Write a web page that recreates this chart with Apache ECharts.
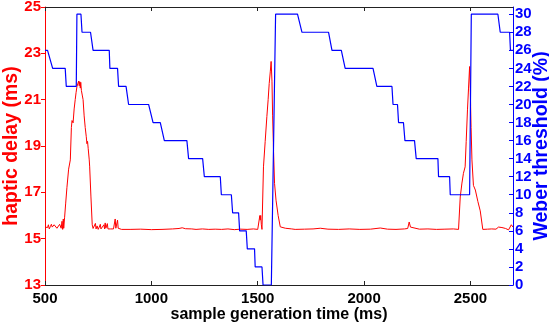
<!DOCTYPE html>
<html>
<head>
<meta charset="utf-8">
<script src="https://cdn.jsdelivr.net/npm/echarts@6/dist/echarts.min.js"></script>
<style>
html,body{margin:0;padding:0;background:#fff;}
#chart{width:549px;height:329px;}
</style>
</head>
<body>
<div id="chart"></div>
<script>
// ---- data ----
const xTicks = [500, 1000, 1500, 2000, 2500];
const delayTicks = [13, 15, 17, 19, 21, 23, 25];
const weberTicks = [0, 2, 4, 6, 8, 10, 12, 14, 16, 18, 20, 22, 24, 26, 28, 30];

const hapticDelay = [
  [500,15.5],[504,15.45],[508,15.55],[512,15.48],[516,15.6],[520,15.42],[525,15.52],[530,15.62],[534,15.5],[538,15.45],
  [543,15.6],[548,15.68],[552,15.55],[556,15.45],[560,15.42],[565,15.5],[569,15.62],[573,15.7],[576,15.45],[580,15.75],
  [583,15.4],[586,15.85],[588,15.45],
  [592,15.9],[597,16.5],[603,17.2],[611,18.0],[619,18.4],[624,19.8],[627,20.1],[632,20.0],[637,20.6],[642,21.0],
  [646,21.3],[650,21.56],[654,21.5],[658,21.8],[661,21.6],[663,21.78],[666,21.5],[668,21.75],[671,21.4],[675,21.2],
  [679,21.0],[684,20.3],[689,19.8],[694,19.4],[697,19.1],[700,19.2],[703,18.9],[705,18.9],[708,18.4],[710,18.1],
  [716,16.8],[722,15.6],[726,15.44],
  [730,15.5],[734,15.4],[737,15.66],[740,15.42],[745,15.55],[750,15.4],[755,15.5],[760,15.62],[763,15.42],[767,15.5],
  [772,15.45],[777,15.6],[780,15.42],[783,15.68],[786,15.45],[790,15.5],[793,15.65],[796,15.42],[800,15.45],[808,15.42],
  [815,15.45],[822,15.42],[828,15.45],[830,15.85],[833,15.45],[838,15.42],[841,15.8],[844,15.45],[850,15.42],[860,15.4],
  [900,15.4],[950,15.41],[1000,15.39],[1050,15.4],[1100,15.42],[1130,15.44],[1145,15.47],[1160,15.43],[1190,15.42],
  [1210,15.4],[1240,15.42],[1270,15.4],[1300,15.41],[1330,15.4],[1360,15.42],[1390,15.39],[1420,15.41],[1450,15.4],
  [1480,15.42],[1500,15.4],[1507,15.42],
  [1510,16.0],[1512,15.8],[1514,16.0],[1517,15.6],[1520,15.4],[1527,18.1],[1535,19.2],[1543,20.27],[1549,21.0],
  [1554,21.7],[1559,22.2],[1563,22.65],[1567,21.8],[1570,20.3],[1574,18.9],[1579,17.39],[1586,16.66],[1596,16.0],
  [1606,15.51],[1630,15.45],[1660,15.42],[1676,15.4],
  [1720,15.41],[1760,15.42],[1794,15.45],[1830,15.41],[1880,15.4],[1930,15.42],[1980,15.4],[2030,15.41],[2076,15.46],
  [2110,15.41],[2150,15.4],[2190,15.42],[2205,15.44],[2212,15.72],[2218,15.5],[2225,15.42],[2260,15.41],[2300,15.42],
  [2340,15.4],[2380,15.41],[2420,15.42],[2444,15.4],
  [2452,16.8],[2460,17.4],[2467,17.82],[2475,18.1],[2480,19.2],[2486,20.56],[2491,21.5],[2496,22.43],[2499,21.5],
  [2503,19.8],[2507,18.4],[2514,17.3],[2523,17.1],[2535,16.6],[2546,16.2],[2558,15.4],[2580,15.41],[2600,15.42],
  [2620,15.41],[2632,15.5],[2638,15.44],[2648,15.48],[2655,15.42],[2665,15.44],[2679,15.38],[2688,15.42],[2692,15.6],
  [2695,15.66],[2700,15.5]
];

const weberThreshold = [
  [500,26],[512,26],[536,24],[595,24],[600,22],[647,22],[650,30],[669,30],[674,28],[714,28],[726,26],[802,26],
  [805,24],[841,24],[846,22],[881,22],[893,20],[987,20],[1008,18],[1042,18],[1061,16],[1167,16],[1175,14],[1241,14],
  [1249,12],[1324,12],[1329,10],[1376,10],[1382,8],[1410,8],[1415,6],[1446,6],[1451,4],[1485,4],[1488,2],[1520,2],
  [1525,0],[1564,0],[1584,30],[1687,30],[1708,28],[1833,28],[1849,26],[1893,26],[1911,24],[2042,24],[2060,22],
  [2131,22],[2136,20],[2157,20],[2162,18],[2185,18],[2192,16],[2237,16],[2245,14],[2347,14],[2350,12],[2402,12],
  [2405,10],[2496,10],[2504,30],[2629,30],[2640,28],[2684,28],[2688,26],[2700,26]
];

// ---- chart ----
const FONT = 'Liberation Sans, Arial, Helvetica, sans-serif';
const plain = v => String(v);
const chart = echarts.init(document.getElementById('chart'), null, {renderer: 'canvas'});
chart.setOption({
  animation: false,
  backgroundColor: '#ffffff',
  grid: {left: 45, right: 36, top: 7, bottom: 44, containLabel: false, outerBoundsMode: 'none'},
  xAxis: [{
    type: 'value', min: 500, max: 2700, position: 'bottom',
    name: 'sample generation time (ms)', nameLocation: 'middle', nameGap: 22, nameMoveOverlap: false,
    nameTextStyle: {color: '#000', fontSize: 16, fontWeight: 'bold', fontFamily: FONT},
    axisLine: {show: true, onZero: false, lineStyle: {color: '#222', width: 1}},
    axisTick: {show: true, inside: true, length: 4, customValues: xTicks, lineStyle: {color: '#222'}},
    axisLabel: {show: true, customValues: xTicks, formatter: plain, margin: 6, color: '#000', fontSize: 15, fontWeight: 'bold', fontFamily: FONT},
    splitLine: {show: false}
  }, {
    type: 'value', min: 500, max: 2700, position: 'top',
    axisLine: {show: true, onZero: false, lineStyle: {color: '#222', width: 1}},
    axisTick: {show: true, inside: true, length: 4, customValues: xTicks, lineStyle: {color: '#222'}},
    axisLabel: {show: false},
    splitLine: {show: false}
  }],
  yAxis: [{
    type: 'value', min: 13, max: 25, position: 'left',
    name: 'haptic delay (ms)', nameLocation: 'middle', nameGap: 23, nameMoveOverlap: false,
    nameTextStyle: {color: '#ff0000', fontSize: 19.5, fontWeight: 'bold', fontFamily: FONT},
    axisLine: {show: true, onZero: false, lineStyle: {color: '#ff0000', width: 1}},
    axisTick: {show: true, inside: false, length: 4, customValues: delayTicks, lineStyle: {color: '#ff0000'}},
    axisLabel: {show: true, customValues: delayTicks, formatter: plain, margin: 4, color: '#ff0000', fontSize: 15, fontWeight: 'bold', fontFamily: FONT},
    splitLine: {show: false}
  }, {
    type: 'value', min: 0, max: 30.8, position: 'right',
    name: 'Weber threshold (%)', nameLocation: 'middle', nameGap: 19, nameMoveOverlap: false,
    nameTextStyle: {color: '#0000ff', fontSize: 19.5, fontWeight: 'bold', fontFamily: FONT},
    axisLine: {show: true, onZero: false, lineStyle: {color: '#0000ff', width: 1}},
    axisTick: {show: true, inside: true, length: 4, customValues: weberTicks, lineStyle: {color: '#0000ff'}},
    axisLabel: {show: true, customValues: weberTicks, formatter: plain, margin: 2, color: '#0000ff', fontSize: 15, fontWeight: 'bold', fontFamily: FONT},
    splitLine: {show: false}
  }],
  series: [{
    name: 'haptic delay', type: 'line', xAxisIndex: 0, yAxisIndex: 0,
    data: hapticDelay, showSymbol: false, symbol: 'none',
    lineStyle: {color: '#ff0000', width: 1}, z: 2
  }, {
    name: 'Weber threshold', type: 'line', xAxisIndex: 0, yAxisIndex: 1,
    data: weberThreshold, showSymbol: false, symbol: 'none',
    lineStyle: {color: '#0000ff', width: 1.2}, z: 3
  }]
});
</script>
</body>
</html>
